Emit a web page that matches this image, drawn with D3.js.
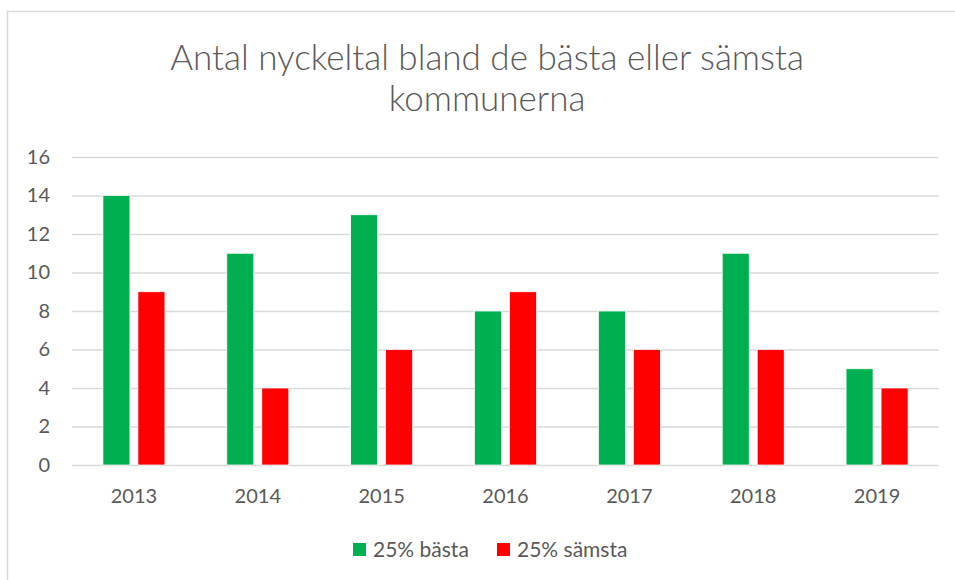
<!DOCTYPE html>
<html>
<head>
<meta charset="utf-8">
<script src="https://d3js.org/d3.v7.min.js"></script>
<style>
  body { margin: 0; background: #fff; }
  text { font-family: Lato, "Open Sans", sans-serif; fill: #595959; }
</style>
</head>
<body>
<script>
// chart values
var years = ["2013", "2014", "2015", "2016", "2017", "2018", "2019"];
var series = ["25% bästa", "25% sämsta"];
var basta = [14, 11, 13, 8, 8, 11, 5];
var samsta = [9, 4, 6, 9, 6, 6, 4];
var yTicks = [0, 2, 4, 6, 8, 10, 12, 14, 16];
var colors = ["#00b050", "#ff0000"];

var width = 955, height = 580;
var plot = {left: 72, right: 939, top: 157, bottom: 465};

var svg = d3.select("body").append("svg")
    .attr("width", width)
    .attr("height", height);

// chart frame
svg.append("rect")
    .attr("x", 7.5).attr("y", 11.5)
    .attr("width", 960).attr("height", 600)
    .attr("fill", "#fff")
    .attr("stroke", "#d9d9d9")
    .attr("stroke-width", 1.5);

// title
var title = svg.append("text")
    .attr("text-anchor", "middle")
    .style("font-size", "35px")
    .style("font-weight", 300);
title.append("tspan").attr("x", 487).attr("y", 70).text("Antal nyckeltal bland de bästa eller sämsta");
title.append("tspan").attr("x", 487).attr("y", 111).text("kommunerna");

var y = d3.scaleLinear()
    .domain([0, 16])
    .range([plot.bottom, plot.top]);

var x0 = d3.scaleBand()
    .domain(years)
    .range([plot.left, plot.right]);

var groupW = 62;
var x1 = d3.scaleBand()
    .domain(series)
    .range([x0.bandwidth() / 2 - groupW / 2, x0.bandwidth() / 2 + groupW / 2])
    .paddingInner(8 / 35);

// gridlines + y labels
var yAxis = svg.append("g")
    .attr("transform", "translate(" + plot.left + ",0)")
    .call(d3.axisLeft(y).tickValues(yTicks).tickSize(-(plot.right - plot.left)).tickPadding(22));
yAxis.select(".domain").remove();
yAxis.selectAll(".tick line").attr("stroke", "#d9d9d9").attr("stroke-width", 1.5);
yAxis.selectAll(".tick text").style("font-size", "20px").attr("fill", "#595959");

// x labels
var xAxis = svg.append("g")
    .attr("transform", "translate(0," + plot.bottom + ")")
    .call(d3.axisBottom(x0).tickSize(0).tickPadding(24));
xAxis.select(".domain").remove();
xAxis.selectAll(".tick text").style("font-size", "20px").attr("fill", "#595959");

// bars
var rows = years.map(function(d, i) {
  return {year: d, values: [{s: series[0], v: basta[i], c: colors[0]}, {s: series[1], v: samsta[i], c: colors[1]}]};
});

svg.selectAll(".grp")
  .data(rows)
  .enter().append("g")
    .attr("transform", function(d) { return "translate(" + x0(d.year) + ",0)"; })
  .selectAll("rect")
  .data(function(d) { return d.values; })
  .enter().append("rect")
    .attr("x", function(d) { return x1(d.s); })
    .attr("y", function(d) { return y(d.v); })
    .attr("width", x1.bandwidth())
    .attr("height", function(d) { return y(0) - y(d.v); })
    .attr("fill", function(d) { return d.c; })
    .attr("stroke", "#fff")
    .attr("stroke-width", 0.75);

// legend
var legendX = [353, 497];
var legend = svg.append("g");
series.forEach(function(s, i) {
  legend.append("rect")
    .attr("x", legendX[i]).attr("y", 543)
    .attr("width", 13).attr("height", 13)
    .attr("fill", colors[i]);
  legend.append("text")
    .attr("x", legendX[i] + 20).attr("y", 557)
    .style("font-size", "21px")
    .text(s);
});
</script>
</body>
</html>
